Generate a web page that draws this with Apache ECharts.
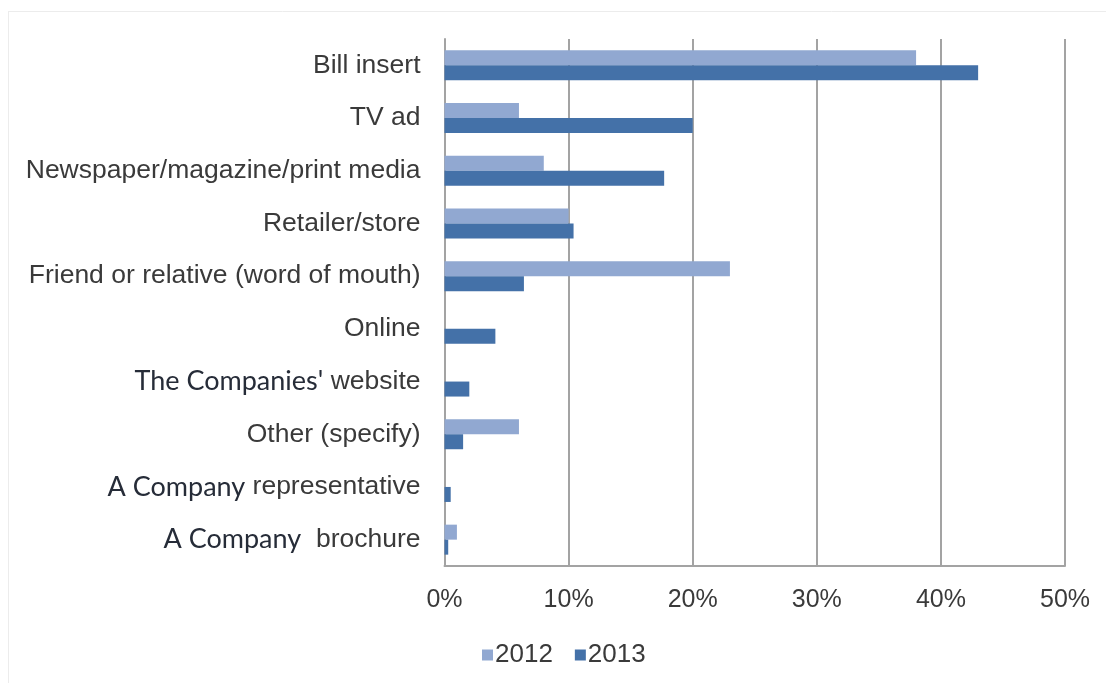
<!DOCTYPE html>
<html>
<head>
<meta charset="utf-8">
<script src="https://cdn.jsdelivr.net/npm/echarts@6/dist/echarts.min.js"></script>
<style>
  html, body { margin: 0; padding: 0; background: #ffffff; }
  #chart { width: 1106px; height: 683px; }
</style>
</head>
<body>
<div id="chart"></div>
<script>
// Sources of awareness, top to bottom
const categories = [
  'Bill insert',
  'TV ad',
  'Newspaper/magazine/print media',
  'Retailer/store',
  'Friend or relative (word of mouth)',
  'Online',
  "The Companies' website",
  'Other (specify)',
  'A Company representative',
  'A Company brochure'
];

// Share of respondents, in percent
const values2012 = [38, 6, 8, 10, 23, 0, 0, 6, 0, 1];
const values2013 = [43, 20, 17.7, 10.4, 6.4, 4.1, 2, 1.5, 0.5, 0.3];

const xTicks = [0, 10, 20, 30, 40, 50];
const seriesNames = ['2012', '2013'];

const ARIAL = '"Liberation Sans", Arial, sans-serif';
const CALIBRI = 'Lato, "Open Sans", sans-serif';
const TEXT = '#3a3a3a';
const GRID = '#a3a3a3';

// Some labels mix two typefaces: the company name part is set apart
const richParts = {
  "The Companies' website": ["The Companies'", ' website'],
  'A Company representative': ['A Company', ' representative'],
  'A Company brochure': ['A Company', '  brochure']
};

function labelFormatter(value) {
  const parts = richParts[value];
  if (parts) {
    return '{c|' + parts[0] + '}{a|' + parts[1] + '}';
  }
  return '{a|' + value + '}';
}

const chart = echarts.init(document.getElementById('chart'), null, { renderer: 'canvas' });

chart.setOption({
  backgroundColor: '#ffffff',
  animation: false,
  graphic: [
    { type: 'line', shape: { x1: 8, y1: 11.5, x2: 1106, y2: 11.5 }, style: { stroke: '#ececec', lineWidth: 1 } },
    { type: 'line', shape: { x1: 8.5, y1: 11, x2: 8.5, y2: 683 }, style: { stroke: '#ececec', lineWidth: 1 } }
  ],
  grid: { left: 444.5, right: 41, top: 39, bottom: 117, containLabel: false },
  legend: {
    data: seriesNames,
    left: 477,
    top: 637,
    itemWidth: 11,
    itemHeight: 11,
    itemGap: 22,
    icon: 'rect',
    textStyle: { fontFamily: ARIAL, fontSize: 26, color: TEXT, padding: [0, 0, 0, -3] }
  },
  xAxis: {
    type: 'value',
    min: xTicks[0],
    max: xTicks[xTicks.length - 1],
    interval: 10,
    axisLine: { show: true, lineStyle: { color: GRID, width: 2 } },
    axisTick: { show: false },
    splitLine: { show: true, lineStyle: { color: GRID, width: 2 } },
    axisLabel: {
      formatter: '{value}%',
      margin: 22,
      fontFamily: ARIAL,
      fontSize: 25,
      color: TEXT
    }
  },
  yAxis: {
    type: 'category',
    inverse: true,
    data: categories,
    axisLine: { show: true, lineStyle: { color: GRID, width: 2 } },
    axisTick: { show: false },
    axisLabel: {
      margin: 24,
      formatter: labelFormatter,
      rich: {
        a: { fontFamily: ARIAL, fontSize: 26.5, color: TEXT },
        c: { fontFamily: CALIBRI, fontSize: 27, color: '#262c38' }
      }
    }
  },
  series: [
    {
      name: seriesNames[0],
      type: 'bar',
      data: values2012,
      barWidth: 15,
      barGap: '0%',
      itemStyle: { color: '#91a8d1' }
    },
    {
      name: seriesNames[1],
      type: 'bar',
      data: values2013,
      barWidth: 15,
      barGap: '0%',
      itemStyle: { color: '#4471a8' }
    }
  ]
});
</script>
</body>
</html>
